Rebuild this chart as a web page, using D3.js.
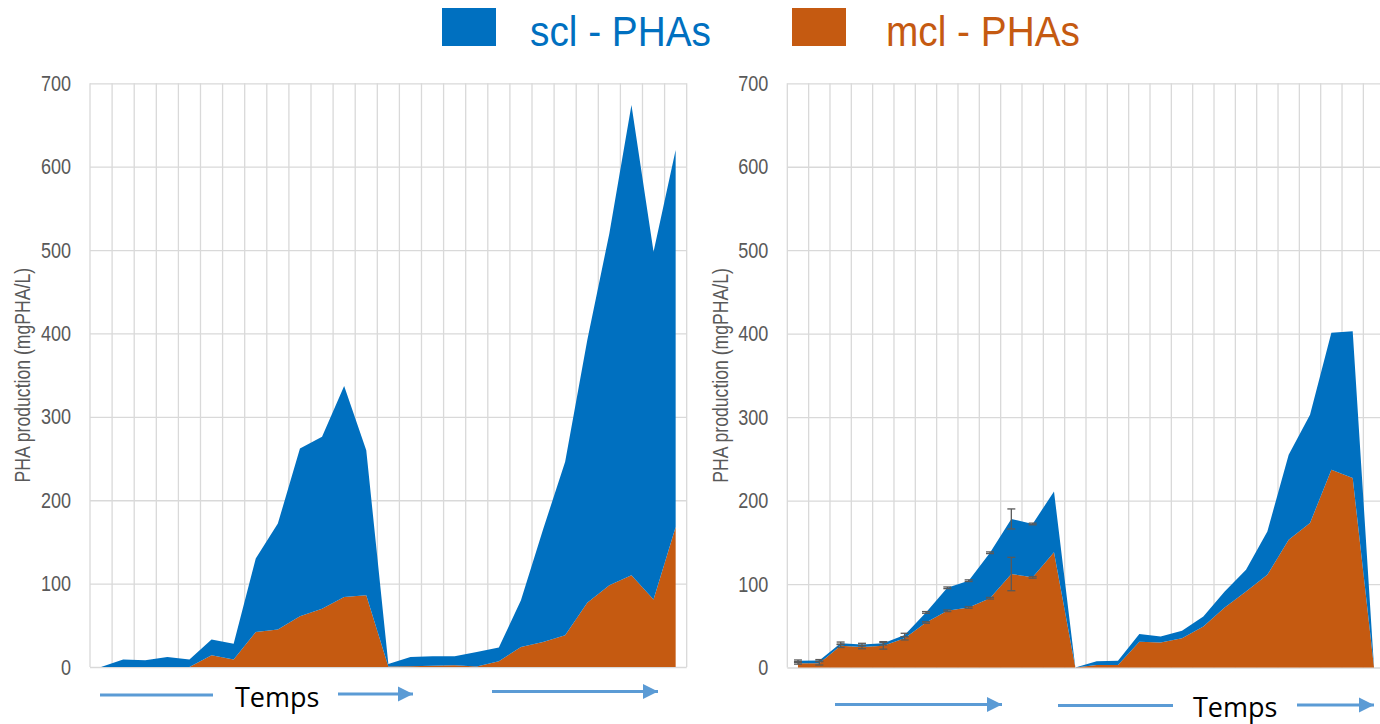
<!DOCTYPE html>
<html>
<head>
<meta charset="utf-8">
<script src="https://cdn.jsdelivr.net/npm/d3@7"></script>
<style>
  body { margin: 0; background: #fff; }
  .tick-label { font-family: "Liberation Sans Narrow", "Arial Narrow", "Liberation Sans", Arial, sans-serif; }
</style>
</head>
<body>
<div class="container"></div>
<script>
// Series labels
const seriesNames = ["mcl - PHAs", "scl - PHAs"];
const legendOrder = ["scl - PHAs", "mcl - PHAs"];
const yTicks = [0, 100, 200, 300, 400, 500, 600, 700];
const yTitle = "PHA production (mgPHA/L)";
const timeLabel = "Temps";

// Left panel (27 samples)
const leftMcl = [0, 0, 0, 0, 0, 14, 9, 42, 45, 61, 70, 84, 86, 0.5, 1, 1.5, 2, 0.5, 7, 24, 30, 38, 77, 98, 110, 81, 168];
const leftScl = [0, 9, 8, 12, 9, 19, 19, 88, 127, 201, 206, 253, 174, 3, 11, 11.5, 11, 17.5, 16.5, 56, 135, 208, 315, 422, 564, 417, 452];

// Right panel (28 samples), with error bars on the first run
const rightMcl = [5, 5, 26, 24.5, 26, 35, 54, 68, 72, 83, 112, 108, 138, 0, 3, 3, 31, 30, 35, 49, 72, 91, 111, 153, 173, 237, 227, 0];
const rightScl = [3, 3.5, 3, 3, 3, 4, 12, 27.5, 32, 54.5, 66, 64, 73, 0, 4.5, 5, 9, 7, 9, 12, 19, 26, 52, 102, 130, 164, 176, 0];
const rightMclErr = [1, 2, 2, 2, 4, 2, 1, 1, 1, 1, 20, 1];
const rightSclErr = [1, 1, 1.5, 1.5, 2, 2, 1, 1, 1, 1, 12, 1];

const colors = { "scl - PHAs": "#0070C0", "mcl - PHAs": "#C55A11" };
const gridColor = "#d9d9d9";
const textGray = "#595959";
const arrowColor = "#5B9BD5";
const narrow = 0.82; // no condensed face installed, squeeze the regular one

const W = 1380, H = 724;

const svg = d3.select(".container")
  .append("svg")
  .attr("width", W)
  .attr("height", H);

svg.append("defs")
  .append("marker")
  .attr("id", "head")
  .attr("viewBox", "0 0 10 10")
  .attr("refX", 10)
  .attr("refY", 5)
  .attr("markerUnits", "userSpaceOnUse")
  .attr("markerWidth", 15)
  .attr("markerHeight", 16)
  .attr("orient", "auto")
  .append("path")
  .attr("d", "M0,0 L10,5 L0,10 Z")
  .attr("fill", arrowColor);

// Legend
const legend = svg.append("g");
const legendX = d3.scalePoint().domain(legendOrder).range([442, 792]);
const legendTextX = d3.scalePoint().domain(legendOrder).range([530, 886]);
legend.selectAll("rect")
  .data(legendOrder)
  .enter()
  .append("rect")
  .attr("x", (d) => legendX(d))
  .attr("y", 8)
  .attr("width", 54)
  .attr("height", 38)
  .attr("fill", (d) => colors[d]);
legend.selectAll("text")
  .data(legendOrder)
  .enter()
  .append("text")
  .attr("transform", (d) => "translate(" + legendTextX(d) + ",46) scale(0.97,1.06)")
  .attr("font-family", "Liberation Sans, Arial, sans-serif")
  .attr("font-size", 40)
  .attr("fill", (d) => colors[d])
  .text((d) => d);

const drawPanel = (opts) => {
  const { mcl, scl, left, right, top, bottom, titleX, mclErr, sclErr } = opts;
  const n = mcl.length;
  const rows = mcl.map((m, i) => ({ i: i, "mcl - PHAs": m, "scl - PHAs": scl[i] }));

  const x = d3.scaleBand().domain(d3.range(n)).range([left, right]).padding(0);
  const cx = (i) => x(i) + x.bandwidth() / 2;
  const y = d3.scaleLinear().domain([0, 700]).range([bottom, top]);

  const g = svg.append("g");

  // vertical gridlines on category boundaries
  g.append("g")
    .selectAll("line")
    .data(d3.range(n + 1))
    .enter()
    .append("line")
    .attr("x1", (k) => left + k * x.step())
    .attr("x2", (k) => left + k * x.step())
    .attr("y1", top)
    .attr("y2", bottom)
    .attr("stroke", gridColor)
    .attr("stroke-width", 1.3);

  // horizontal gridlines + tick labels
  const yAxis = d3.axisLeft(y)
    .tickValues(yTicks)
    .tickSize(-(right - left))
    .tickPadding(19);
  const ya = g.append("g")
    .attr("transform", "translate(" + left + ",0)")
    .call(yAxis);
  ya.select(".domain").remove();
  ya.selectAll("line").attr("stroke", gridColor).attr("stroke-width", 1.3);
  ya.selectAll("text")
    .attr("class", "tick-label")
    .attr("font-size", 22)
    .attr("fill", textGray)
    .attr("x", -19 / narrow)
    .attr("transform", "scale(" + narrow + ",1)");

  // stacked areas
  const stack = d3.stack().keys(seriesNames)(rows);
  const area = d3.area()
    .x((d) => cx(d.data.i))
    .y0((d) => y(d[0]))
    .y1((d) => y(d[1]));
  g.append("g")
    .selectAll("path")
    .data(stack)
    .enter()
    .append("path")
    .attr("d", area)
    .attr("fill", (s) => colors[s.key]);

  // error bars
  if (mclErr) {
    const bars = [];
    mclErr.forEach((e, i) => bars.push({ i: i, v: stack[0][i][1], e: e }));
    sclErr.forEach((e, i) => bars.push({ i: i, v: stack[1][i][1], e: e }));
    const eb = g.append("g")
      .attr("stroke", textGray)
      .attr("stroke-width", 1.3)
      .selectAll("g")
      .data(bars)
      .enter()
      .append("g");
    eb.append("line")
      .attr("x1", (d) => cx(d.i)).attr("x2", (d) => cx(d.i))
      .attr("y1", (d) => y(d.v - d.e)).attr("y2", (d) => y(d.v + d.e));
    eb.append("line")
      .attr("x1", (d) => cx(d.i) - 4).attr("x2", (d) => cx(d.i) + 4)
      .attr("y1", (d) => y(d.v + d.e)).attr("y2", (d) => y(d.v + d.e));
    eb.append("line")
      .attr("x1", (d) => cx(d.i) - 4).attr("x2", (d) => cx(d.i) + 4)
      .attr("y1", (d) => y(d.v - d.e)).attr("y2", (d) => y(d.v - d.e));
  }

  // y title
  g.append("text")
    .attr("class", "tick-label")
    .attr("transform", "translate(" + titleX + "," + (top + bottom) / 2 + ") rotate(-90) scale(" + narrow + ",1)")
    .attr("text-anchor", "middle")
    .attr("font-size", 21.5)
    .attr("fill", textGray)
    .text(yTitle);
};

drawPanel({ mcl: leftMcl, scl: leftScl, left: 90, right: 686.7, top: 83.3, bottom: 667, titleX: 29.5 });
drawPanel({ mcl: rightMcl, scl: rightScl, left: 787.3, right: 1384.7, top: 83.3, bottom: 667.5, titleX: 728,
  mclErr: rightMclErr, sclErr: rightSclErr });

// "Temps" arrows under the panels
const arrows = [
  [100, 213, 695, false], [338, 413, 694, true], [492, 658, 691.5, true],
  [835, 1002, 704.5, true], [1058, 1173, 705.5, false], [1297, 1374, 705, true]
];
svg.append("g")
  .selectAll("line")
  .data(arrows)
  .enter()
  .append("line")
  .attr("x1", (d) => d[0])
  .attr("x2", (d) => d[1])
  .attr("y1", (d) => d[2])
  .attr("y2", (d) => d[2])
  .attr("stroke", arrowColor)
  .attr("stroke-width", 3)
  .attr("marker-end", (d) => (d[3] ? "url(#head)" : null));

svg.append("g")
  .selectAll("text")
  .data([[235, 707], [1193, 717]])
  .enter()
  .append("text")
  .attr("x", (d) => d[0])
  .attr("y", (d) => d[1])
  .attr("font-family", "Open Sans, sans-serif")
  .attr("font-size", 27)
  .attr("fill", "#000")
  .text(timeLabel);
</script>
</body>
</html>
